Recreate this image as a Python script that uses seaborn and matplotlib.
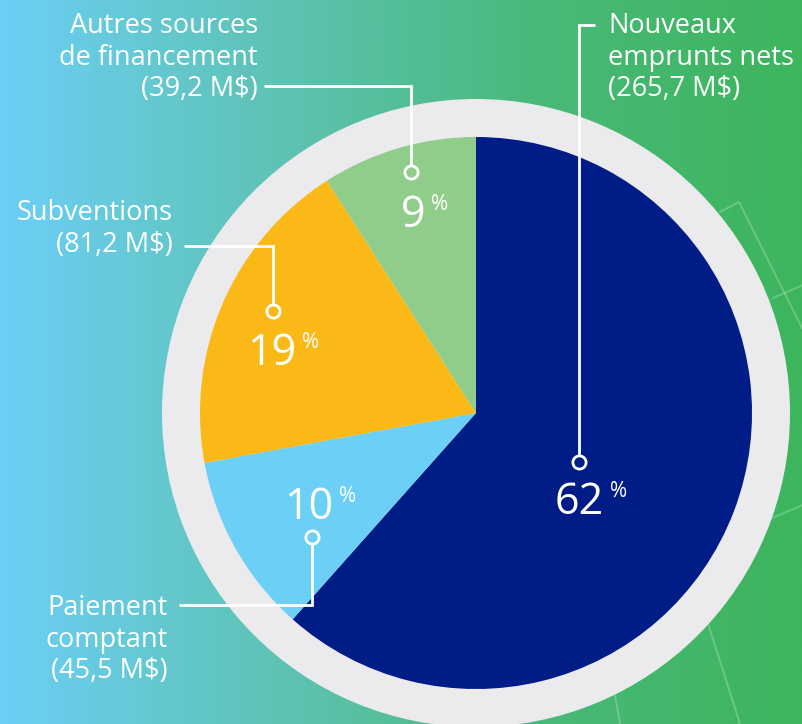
import numpy as np
import matplotlib.pyplot as plt
import seaborn as sns
from matplotlib.colors import LinearSegmentedColormap
from matplotlib.patches import Circle

# données (M$), dans l'ordre du graphique, sens horaire depuis midi
categories = ["Nouveaux\nemprunts nets", "Paiement\ncomptant", "Subventions", "Autres sources\nde financement"]
montants = [265.7, 45.5, 81.2, 39.2]
pourcentages = [62, 10, 19, 9]
montant_labels = ["(265,7 M$)", "(45,5 M$)", "(81,2 M$)", "(39,2 M$)"]

couleurs = sns.color_palette(["#001c87", "#6bcff6", "#fbb917", "#90cd8b"])

sns.set_theme(style="white")
plt.rcParams['font.family'] = ['Open Sans', 'DejaVu Sans']

W, H = 803, 724
fig = plt.figure(figsize=(W / 100, H / 100), dpi=100)
ax = fig.add_axes([0, 0, 1, 1])

# fond en dégradé bleu -> vert
cmap = LinearSegmentedColormap.from_list("fond", ["#6bcff6", "#5fc3b6", "#49b97a", "#3db55c"])
grad = np.linspace(0, 1, 400).reshape(1, -1)
ax.imshow(grad, cmap=cmap, extent=(0, W, H, 0), aspect='auto', zorder=0)

# lignes décoratives discrètes
deco = [[(720, 212), (739, 202), (803, 330)], [(773, 298), (803, 285)],
        [(750, 527), (803, 505)], [(698, 592), (740, 724)], [(607, 650), (620, 724)]]
for seg in deco:
    xs, ys = zip(*seg)
    ax.plot(xs, ys, color="white", alpha=0.22, lw=1.5, zorder=1)

cx, cy, r = 476, 413, 276
ax.add_patch(Circle((cx, cy), 314, facecolor="#ebebee", edgecolor="none", zorder=2))

# axe y inversé : midi = -90°, sens horaire visuel = anti-horaire en données
ax.pie(montants, colors=couleurs, startangle=-90, counterclock=True,
       center=(cx, cy), radius=r, frame=True,
       wedgeprops=dict(linewidth=0, zorder=3))
ax.set_xlim(0, W)
ax.set_ylim(H, 0)
ax.set_aspect('equal')
ax.axis('off')

# étiquettes des pourcentages : (x bord droit du nombre, ligne de base)
pct_pos = [(604, 514), (333, 519), (296, 365), (425, 227)]
for p, (x, y) in zip(pourcentages, pct_pos):
    ax.text(x, y, str(p), color="white", fontsize=31, ha="right", va="baseline", zorder=5)
    ax.text(x + 6, y - 17, "%", color="white", fontsize=15, ha="left", va="baseline", zorder=5)

# traits de rappel : point, coude, fin
leaders = [
    [(579, 462), (579, 25), (594, 25)],
    [(312, 537), (312, 605), (180, 605)],
    [(273, 311), (273, 246), (185, 246)],
    [(411, 172), (411, 86), (265, 86)],
]
for pts, c in zip(leaders, couleurs):
    xs, ys = zip(*pts)
    ax.plot(xs, ys, color="white", lw=2, zorder=4, solid_joinstyle="miter")
    ax.plot(xs[0], ys[0], marker="o", ms=9.5, mfc=c, mec="white", mew=2, zorder=7)

# textes des catégories
txt_pos = [(608, 12, "left"), (168, 594, "right"), (173, 199, "right"), (258, 12, "right")]
for cat, m, (x, y, ha) in zip(categories, montant_labels, txt_pos):
    ax.text(x, y, cat + "\n" + m, color="white", fontsize=19.5, ha=ha, va="top",
            linespacing=1.17, zorder=5)

fig.savefig("out.png", dpi=100)
